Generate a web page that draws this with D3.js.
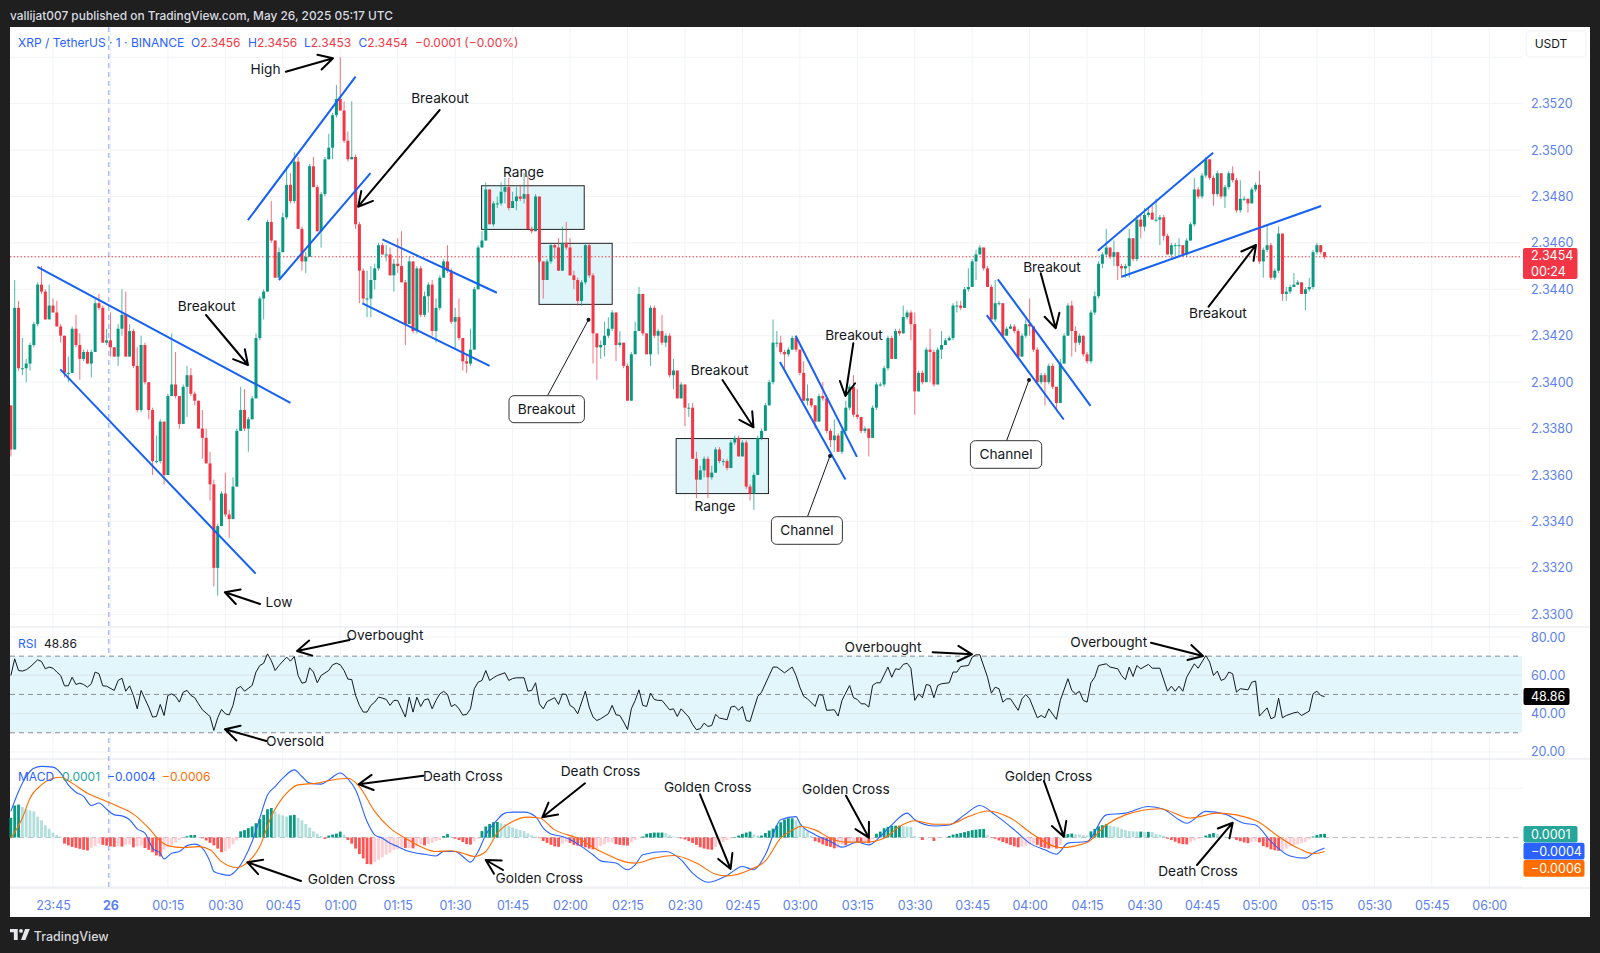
<!DOCTYPE html>
<html><head><meta charset="utf-8">
<script src="https://cdn.jsdelivr.net/npm/d3@7/dist/d3.min.js"></script>
<style>html,body{margin:0;padding:0;background:#1f1f1f}svg{display:block}text{font-family:Inter,"Liberation Sans",sans-serif}</style>
</head><body><svg id="c" width="1600" height="953"></svg>
<script>
// Prices are stored in units of 0.0001 above 2.0000 (3371 = 2.3371)
const firstOpen = 3390;
const closes = [
3371,3432,3406,3406,3408,3416,3425,3442,3439,3427,
3433,3430,3424,3420,3404,3404,3423,3416,3410,3413,
3408,3413,3434,3432,3417,3418,3415,3411,3423,3429,
3411,3422,3407,3388,3416,3400,3388,3366,3366,3383,
3360,3394,3399,3394,3382,3398,3403,3395,3392,3380,
3376,3365,3356,3320,3338,3352,3343,3341,3355,3379,
3388,3380,3384,3393,3419,3436,3439,3469,3461,3445,
3456,3471,3485,3478,3495,3466,3452,3454,3493,3484,
3465,3481,3496,3501,3515,3522,3517,3504,3496,3497,
3468,3448,3436,3436,3444,3449,3459,3455,3455,3446,
3451,3450,3443,3425,3452,3422,3449,3429,3437,3442,
3422,3432,3445,3452,3448,3426,3428,3419,3409,3408,
3414,3440,3458,3461,3483,3468,3477,3477,3482,3484,
3475,3478,3480,3479,3481,3466,3465,3480,3452,3444,
3452,3459,3458,3448,3460,3458,3446,3444,3435,3443,
3459,3446,3421,3415,3416,3420,3423,3430,3416,3417,
3407,3392,3412,3422,3438,3421,3412,3432,3420,3422,
3417,3420,3403,3405,3393,3399,3389,3389,3367,3358,
3362,3367,3359,3361,3371,3366,3366,3363,3374,3376,
3368,3374,3355,3352,3360,3376,3379,3390,3400,3417,
3417,3413,3412,3414,3419,3414,3404,3392,3393,3390,
3383,3394,3393,3379,3375,3377,3370,3379,3389,3398,
3386,3385,3379,3380,3376,3389,3399,3399,3406,3419,
3410,3422,3421,3428,3430,3425,3396,3404,3400,3414,
3413,3399,3414,3416,3418,3419,3433,3433,3432,3440,
3441,3452,3455,3458,3449,3441,3427,3434,3434,3420,
3423,3424,3422,3411,3420,3425,3424,3414,3400,3403,
3400,3407,3398,3391,3408,3420,3433,3422,3417,3420,
3412,3409,3430,3437,3451,3455,3458,3454,3456,3450,
3449,3450,3462,3453,3470,3467,3472,3473,3470,3470,
3471,3463,3455,3459,3459,3459,3455,3461,3468,3483,
3480,3489,3496,3488,3481,3490,3480,3484,3490,3487,
3474,3479,3479,3477,3483,3485,3452,3457,3459,3445,
3448,3464,3438,3439,3441,3442,3443,3438,3440,3441,
3456,3459,3456,3454];
const highs = [
3390,3444,3435,3419,3410,3417,3426,3443,3450,3440,
3442,3436,3435,3425,3420,3411,3424,3429,3421,3414,
3414,3414,3436,3438,3433,3423,3430,3415,3425,3440,
3439,3425,3423,3415,3420,3417,3399,3389,3377,3384,
3383,3395,3421,3413,3394,3399,3407,3406,3396,3392,
3388,3380,3370,3358,3339,3353,3361,3345,3359,3380,
3398,3397,3385,3394,3421,3437,3440,3470,3478,3461,
3458,3473,3493,3490,3499,3497,3467,3456,3494,3497,
3485,3482,3497,3507,3516,3528,3540,3521,3508,3521,
3498,3469,3449,3448,3450,3451,3460,3460,3459,3458,
3453,3462,3465,3444,3454,3452,3450,3450,3439,3443,
3444,3436,3446,3453,3459,3449,3432,3436,3418,3412,
3423,3441,3459,3465,3486,3483,3478,3480,3486,3488,
3488,3482,3484,3485,3490,3489,3467,3481,3477,3452,
3453,3460,3460,3462,3467,3469,3462,3448,3445,3444,
3460,3460,3447,3421,3418,3426,3428,3431,3430,3422,
3417,3408,3413,3426,3441,3438,3421,3433,3433,3423,
3429,3421,3421,3410,3405,3400,3399,3391,3391,3370,
3364,3368,3368,3364,3372,3372,3367,3367,3375,3377,
3377,3375,3375,3356,3361,3377,3380,3391,3401,3427,
3422,3420,3414,3415,3420,3420,3414,3409,3399,3393,
3390,3395,3400,3393,3380,3384,3378,3380,3392,3399,
3403,3397,3385,3381,3380,3390,3400,3400,3407,3420,
3420,3423,3423,3433,3431,3431,3430,3405,3405,3415,
3423,3414,3415,3422,3419,3420,3434,3435,3435,3441,
3449,3453,3457,3459,3458,3450,3442,3444,3435,3434,
3424,3425,3425,3423,3421,3427,3436,3424,3415,3404,
3404,3408,3408,3398,3410,3421,3434,3435,3424,3421,
3420,3413,3431,3439,3452,3456,3466,3458,3461,3456,
3451,3451,3466,3462,3472,3472,3475,3475,3476,3479,
3472,3472,3464,3460,3460,3462,3459,3462,3469,3488,
3484,3490,3497,3496,3489,3491,3490,3485,3491,3493,
3488,3487,3480,3479,3484,3486,3491,3458,3468,3460,
3449,3467,3464,3441,3442,3447,3444,3443,3441,3445,
3457,3460,3459,3456];
const lows = [
3368,3371,3405,3403,3400,3405,3415,3424,3438,3427,
3428,3430,3424,3417,3402,3400,3404,3415,3401,3409,
3408,3402,3413,3431,3417,3416,3411,3411,3407,3420,
3411,3411,3406,3387,3387,3399,3384,3360,3365,3365,
3356,3360,3394,3393,3380,3382,3385,3394,3390,3380,
3367,3365,3349,3312,3308,3338,3342,3333,3341,3355,
3379,3379,3370,3384,3393,3418,3427,3439,3460,3445,
3445,3456,3470,3477,3477,3466,3448,3447,3454,3484,
3465,3458,3480,3496,3496,3514,3517,3503,3495,3496,
3466,3434,3434,3428,3428,3440,3448,3455,3452,3446,
3439,3447,3443,3416,3425,3421,3421,3428,3428,3430,
3420,3417,3431,3445,3447,3425,3414,3418,3405,3404,
3407,3415,3440,3458,3461,3468,3467,3475,3476,3477,
3474,3475,3474,3478,3477,3466,3464,3465,3451,3436,
3444,3451,3453,3448,3448,3457,3446,3440,3433,3433,
3442,3445,3408,3401,3410,3411,3419,3422,3409,3415,
3406,3392,3392,3413,3422,3420,3412,3407,3419,3412,
3416,3415,3402,3397,3393,3393,3381,3385,3367,3350,
3358,3359,3350,3358,3361,3365,3364,3362,3363,3373,
3368,3368,3354,3349,3345,3360,3375,3379,3390,3399,
3415,3412,3405,3411,3414,3413,3403,3392,3390,3389,
3380,3383,3392,3378,3372,3370,3370,3369,3378,3388,
3385,3384,3378,3378,3368,3376,3388,3398,3398,3405,
3410,3410,3420,3421,3427,3418,3386,3396,3399,3400,
3400,3398,3399,3410,3417,3418,3418,3430,3431,3432,
3439,3441,3444,3455,3448,3441,3427,3426,3433,3419,
3420,3423,3421,3410,3411,3419,3420,3413,3399,3399,
3390,3399,3397,3388,3391,3408,3420,3411,3413,3416,
3411,3408,3408,3429,3436,3449,3454,3453,3450,3444,
3445,3445,3445,3452,3452,3462,3465,3471,3470,3469,
3459,3461,3455,3453,3454,3454,3454,3454,3461,3467,
3479,3479,3488,3487,3476,3480,3479,3475,3483,3486,
3473,3473,3478,3473,3477,3482,3451,3445,3456,3444,
3444,3447,3435,3435,3438,3441,3442,3438,3431,3439,
3440,3455,3455,3453];

// RSI: bar index and value at each visible vertex
const rsiBars = [0,1,2,3,4,5,7,8,9,10,11,12,13,14,15,16,17,18,19,20,21,22,23,24,25,27,28,29,30,31,32,33,34,35,36,37,38,39,40,41,42,43,44,45,46,47,48,49,50,52,53,54,55,56,57,58,59,60,61,63,64,65,66,67,68,69,70,72,73,74,75,76,77,78,79,80,81,83,84,85,86,87,88,89,90,91,92,93,94,95,96,97,98,99,100,101,102,103,104,105,106,107,108,109,110,111,112,113,114,115,116,117,118,119,120,121,122,123,124,125,126,127,129,130,131,132,134,135,136,137,138,139,140,142,143,144,145,146,147,148,150,151,152,153,154,156,157,158,159,160,161,162,163,164,165,166,167,168,169,170,172,173,174,175,177,178,179,180,181,182,183,184,185,187,188,189,190,191,192,193,194,195,196,199,200,202,204,205,206,207,208,210,211,212,213,215,216,217,219,220,221,222,223,224,225,226,227,229,230,231,232,233,234,235,236,237,238,239,240,241,242,243,245,246,247,248,250,251,252,253,255,256,257,258,259,260,261,263,264,265,266,268,269,270,271,273,274,276,277,278,279,280,281,282,283,284,286,287,289,290,291,292,293,294,295,297,298,300,302,303,304,305,306,307,309,310,312,313,314,315,316,317,318,319,320,321,323,324,325,326,328,329,330,331,332,333,335,336,337,339,340,341,342,343];
const rsiValues = [59.9,68.6,62.5,62.2,62.9,64.3,68.1,67.2,63.4,64.3,63.7,61.7,59.9,54.5,54.5,59,55.2,55.9,55.2,53.8,55.6,61.7,60.8,54.5,54.3,52.1,57.3,58.5,51.7,54.5,49.5,42.5,52.1,47.7,43.4,38.2,38.5,44.8,39,49.5,50.3,49,46,51.2,52.1,49.5,48.3,45.1,42,38.5,31.2,37.8,42.2,39.9,39.3,44.3,53,54.2,51.7,54.7,61.7,65.1,66.3,71.2,67.7,62.5,65.1,69.5,67.4,69.8,59.9,55.9,56.4,63.9,61.7,56.1,59.9,62.5,65.5,66.3,65.5,62.5,58,57.8,49.5,44.3,40.8,40.8,44.3,46,48.6,48.1,47.4,44.3,46.9,46.9,42.5,38.2,48.6,40.8,48.6,43.7,47.2,47.7,42.5,46.9,50.3,51.6,50,43.7,44.8,42.5,39.2,39.6,42.5,53,56.4,57.3,62.5,57.3,58.7,59.9,61.3,57.3,58.3,58.7,58.7,51.7,52.1,56.1,45.1,42.5,46.3,48.3,44.8,50.3,50,44.3,43,39.9,51.7,43.4,38.2,36.4,37.3,39.9,44.3,39.4,39,35.6,31.7,42.5,46.9,52.4,44.3,43.7,50.7,47.4,46.9,46.9,42,42.5,38.5,42.5,38.2,34.3,31.6,32.1,35,33.3,33.8,39.6,37.7,36.8,43.4,43.9,41.7,43.7,36.4,35.9,42.5,49,51.2,64.3,64.3,61.3,64.3,59.9,53.8,49,47.7,43.7,50,49.5,41.7,42,38.7,46.9,54.7,48.3,47.4,45.1,45.1,43.4,54.7,56.1,56.1,64.3,59,63.4,63,65.7,66.3,63.7,46.9,50.3,48.3,55.2,54.7,48.3,54.7,55.6,56.1,61.7,61.7,64.6,65.1,69.5,70.7,70.7,59,50.7,53.8,53,46,47.7,47.7,41.7,47.7,50,47.7,37.8,39,37.8,42.5,37,46.9,58.2,52.1,50.3,51.6,46.9,46,56.1,59,65.1,66,64.3,63.4,59.9,57.7,64.3,59.4,65.1,63.4,65.7,63.7,63.7,51.7,54.3,51.7,54.3,51.7,59,66,63.7,70.3,66.9,59.9,62.2,57.3,58.2,61.7,60.8,51.2,53,52.4,56.4,57,38.7,43,37.3,38.2,48.1,37.8,39,40.4,40.8,39,41.3,50.3,51.7,49.5,48.86];

// MACD lines, units of 0.0001
const macdBars = [0,2,4,6,8,11,13,15,17,19,21,23,25,27,29,31,33,35,37,39,40,42,44,46,48,50,52,53,55,57,59,61,63,65,67,69,71,74,76,78,81,83,86,88,90,93,95,97,99,101,104,106,108,111,113,116,118,120,122,124,127,129,131,134,137,139,141,144,147,149,152,154,158,161,163,165,171,175,178,182,187,191,194,197,201,205,206,210,214,217,221,224,227,230,234,236,241,245,249,253,257,262,266,270,273,276,281,286,291,297,301,305,307,312,317,322,325,329,334,338,340,343];
const macdValues = [10.6,18.7,24.8,28.2,28.9,28.6,26.2,21.4,18.4,16.7,13,14,11.5,9.2,8.8,7.2,3.5,1.8,-4.3,-6.4,-8.7,-6.4,-5.7,-3.3,-2.7,-4.3,-9.8,-13.8,-14.9,-15.4,-13.1,-8.4,-1.6,7.9,17.3,20.7,24.1,27.5,24.8,22.1,21.7,23.4,26.2,23.8,19.4,6.5,1.1,-0.3,-2.3,-3.7,-5.7,-6.4,-6.8,-7.5,-5.7,-5.7,-7.7,-10,-5.7,1.1,7.2,9.9,10.3,10.3,8.5,3.8,1.4,0.4,-1.6,-3.7,-7,-9.5,-10.4,-13.1,-11.1,-7,-5.7,-9.1,-14.5,-18.2,-15.4,-11.8,-13.1,-7,7.2,8.5,5.8,1.1,-1.6,-3.9,-1.9,-3,0.4,5.1,9.9,7.2,4.7,5.1,9.2,13,9.2,3.1,-2.3,-5,-6.8,-2.3,-1.6,9.2,9.9,12.6,11.5,7.2,5.8,10.6,9.5,5.8,5.1,-1.6,-7.5,-8.4,-6.4,-4.3];
const signalBars = [0,3,5,8,11,13,16,20,24,28,32,36,39,41,45,49,52,55,59,62,65,68,72,75,80,84,88,91,95,99,103,107,111,115,118,121,124,127,131,135,138,142,148,154,163,168,173,179,184,187,193,197,201,205,206,210,214,218,223,228,232,236,241,245,250,255,261,267,274,281,286,291,300,308,315,325,331,336,340,343];
const signalValues = [-0.3,7.9,16,21.4,24.1,24.5,22.1,18,15.3,12.6,9.5,3.8,-1.4,-3.3,-4.1,-3.7,-5,-9.8,-12.2,-9.8,-3.7,8.5,18,21.4,22.1,23.4,24.1,20.7,10.6,3.8,-0.3,-3.7,-5.7,-5.4,-6.4,-7.7,-5.7,1.8,6.5,8.3,7.9,3.1,-0.3,-5.7,-10.4,-8.4,-7.3,-10.4,-14.9,-15.6,-13.1,-9.5,-0.3,3.8,4.5,3.1,-0.3,-1.9,-1.9,-0.3,4.5,6.8,5.4,5.4,8.5,10.8,7.9,1.1,-4.1,-2,5.1,9.2,11.7,7.9,9.9,6.9,0.4,-4.3,-6.6,-5.7];
const histValues = [
8,13,13.4,12.4,11.5,11,10.6,8.5,7,5,
3.5,2,1,0.4,-2.5,-3.2,-3.8,-4.2,-4.6,-5,
-5.3,-4.2,-3.5,-2.5,-3,-3.3,-3.6,-3.8,-3.4,-3.7,
-3,-2.8,-4,-3.6,-3.3,-4.3,-5,-6,-7.3,-7.7,
-5,-4,-3,-2,-1,-0.3,0.5,1,1,0.2,
-0.3,-1.2,-2.2,-3.2,-4.5,-6,-5.5,-4.5,-2.8,-1.2,
2.5,3,3.8,4.5,5.8,7.5,9.2,11.5,12,10.5,
9.5,9,8.5,9,9.2,8,7,5.5,4,2.5,
1.5,0.6,-0.6,0.8,1.2,1.6,2.4,1.2,-1,-2.5,
-4.5,-6.7,-8.5,-10.8,-10.9,-10,-9,-8,-7,-6.2,
-5,-4.8,-4,-4.3,-4.2,-4.4,-3.6,-2.8,-3.2,-2.6,
-2.2,-1.5,-1,0.6,1.4,0.4,-0.5,-1,-1.8,-2.7,
-2.9,-1.6,-0.6,2.6,4.5,5.5,6.2,6.3,5.8,5.4,
4.8,4,3.5,3,2.6,1.7,0.9,0.3,-0.3,-1.4,
-2.2,-3,-3.6,-3.8,-2.5,-1.7,-2.2,-3,-3.3,-3.5,
-4,-4.5,-4.8,-4.8,-3.5,-2.8,-2,-2,-2.7,-3,
-3.2,-3.3,-2,-1,-0.3,0.4,1.5,1.8,2,2,
2,1.8,0.9,0.4,0.1,-0.4,-0.8,-1.5,-2.2,-3,
-4,-4.5,-4.8,-5,-3.8,-2.8,-1.8,-1,-0.4,0.2,
0.8,1.5,2,2.4,1.2,0.8,0.8,1.8,2.8,3.6,
4.8,6.2,7.3,7.8,7.8,7,5.5,3.8,2.5,0.8,
-1.5,-2,-2.8,-3.4,-3.8,-4.4,-4.2,-3,-3.1,-2.2,
-1.6,-1.7,-2.1,-2,-2.3,-0.7,1.5,2.4,3.8,4.3,
4.8,4.8,4.8,4.6,4.4,4.3,0.6,0.2,-1,-0.3,
-0.2,-1.4,-0.3,-0.2,-0.1,0.6,1.2,1.5,1.8,2.2,
2.6,3,3.2,3.4,3.5,1,-0.2,-0.5,-1.2,-1.8,
-2.4,-3,-3.6,-4,-3.7,-3.4,-2.8,-2.4,-3,-3.8,
-4.2,-4.5,-4.4,-4.5,-3,1.2,1.4,1.6,1.3,1.2,
0.9,0.8,2.5,3.5,4.5,5,5.4,4.8,4.5,4.2,
3.5,3,2.6,2.5,2.4,2.4,2.3,2.3,2.2,1.5,
1.2,0.7,-0.5,-1,-1.7,-2.4,-2.7,-2.8,-2,-1.2,
-0.6,-0.1,0.8,1.4,1.8,1.4,0.9,0.4,0.2,-0.2,
-1,-1.5,-2,-2.3,-1.8,-1.7,-2,-3.5,-4,-4.8,
-5.2,-5.4,-5.3,-4.5,-3.6,-3,-2.8,-2.2,-1.8,-0.8,
0.4,1,1.4,1.5];

const timeBars = [11,26,41,56,71,86,101,116,131,146,161,176,191,206,221,236,251,266,281,296,311,326,341,356,371,386];
const timeLabels = ["23:45","26","00:15","00:30","00:45","01:00","01:15","01:30","01:45","02:00","02:15","02:30","02:45","03:00","03:15","03:30","03:45","04:00","04:15","04:30","04:45","05:00","05:15","05:30","05:45","06:00"];
const priceTicks = [2.352,2.35,2.348,2.346,2.344,2.342,2.34,2.338,2.336,2.334,2.332,2.33];
const rsiTicks = [80,60,40,20];
const rsiLevels = [70,50,30];
const macdTicks = [0.002,-0.002];

// Drawings anchored to bar index and price (same 0.0001 units): bar1, price1, bar2, price2
const trendLines = [
[6.9,3449.7,73,3391.1],[12.9,3405.5,63.9,3317.5],[61.9,3469.8,90,3531.6],[70,3444,93.9,3490],
[97,3461.5,126.9,3438.5],[91.8,3433.9,125,3407],[204.9,3420,220.9,3367.8],[200.8,3408.7,217.9,3358.1],
[257.7,3444.3,281.9,3389.8],[254.8,3428.9,274.9,3383.9],[283.8,3456.6,313.9,3498.8],[290,3445.4,342.1,3475.9]];
const rangeBoxes = [[122.9,3484.6,149.7,3465.8],[137.9,3459.8,157,3433.5],[173.7,3375.7,197.8,3352]];

const W=1590,L=10,T=27,B=917,PR=1522;
const svg=d3.select("#c");
const x=d3.scaleLinear().domain([0,343]).range([10.87,10.87+343*3.83]);
const py=d3.scaleLinear().domain([2.35,2.336]).range([150,475]);
const ry=d3.scaleLinear().domain([80,20]).range([637,751.9]);
const my=d3.scaleLinear().domain([0.002,-0.002]).range([788.3,886.7]);
const P=t=>2+t*1e-4;
const UP="#089981",DN="#F23645",AX="#5b7ff2",INK="#131722";

svg.append("rect").attr("width",1600).attr("height",953).attr("fill","#1f1f1f");
svg.append("rect").attr("x",L).attr("y",T).attr("width",W-L).attr("height",B-T).attr("fill","#fff");
const defs=svg.append("defs");
defs.append("clipPath").attr("id","pp").append("rect").attr("x",L).attr("y",T).attr("width",PR-L).attr("height",627-T);
defs.append("clipPath").attr("id","axc").append("rect").attr("x",PR).attr("y",T).attr("width",W-PR).attr("height",888-T);

svg.append("text").attr("x",10).attr("y",20).attr("fill","#d9dbe0").attr("font-size",11.9).attr("font-weight",500)
  .text("vallijat007 published on TradingView.com, May 26, 2025 05:17 UTC");

// grid
const grid=svg.append("g").attr("stroke","#f2f3f5").attr("stroke-width",1);
grid.selectAll("line.v").data(timeBars.filter(b=>x(b)<PR)).join("line")
  .attr("x1",d=>x(d)).attr("x2",d=>x(d)).attr("y1",T).attr("y2",888);
const hl=(a,f)=>grid.append("g").selectAll("line").data(a).join("line").attr("x1",L).attr("x2",PR).attr("y1",f).attr("y2",f);
hl(priceTicks.concat([2.354]),py); hl(rsiTicks,ry); hl(macdTicks,my);
svg.append("g").attr("stroke","#e3e5ea").selectAll("line").data([627,759,888]).join("line")
  .attr("x1",L).attr("x2",W).attr("y1",d=>d).attr("y2",d=>d);

// session break
svg.append("line").attr("x1",108.8).attr("x2",108.8).attr("y1",T).attr("y2",888)
  .attr("stroke","#2962FF").attr("stroke-opacity",.6).attr("stroke-dasharray","5 4");

// range boxes
svg.append("g").selectAll("rect").data(rangeBoxes).join("rect")
  .attr("x",d=>x(d[0])).attr("y",d=>py(P(d[1]))).attr("width",d=>x(d[2])-x(d[0])).attr("height",d=>py(P(d[3]))-py(P(d[1])))
  .attr("fill","#dff5f9").attr("stroke","#222").attr("stroke-width",1);

// last-price line
svg.append("line").attr("x1",L).attr("x2",PR).attr("y1",py(P(3454))).attr("y2",py(P(3454)))
  .attr("stroke",DN).attr("stroke-dasharray","1.5 2");

// candles
const opens=closes.map((c,i)=>i?closes[i-1]:firstOpen);
const cg=svg.append("g").attr("clip-path","url(#pp)");
cg.selectAll("line").data(closes).join("line")
  .attr("x1",(d,i)=>x(i)).attr("x2",(d,i)=>x(i))
  .attr("y1",(d,i)=>py(P(highs[i]))).attr("y2",(d,i)=>py(P(lows[i])))
  .attr("stroke",(d,i)=>d>=opens[i]?UP:DN).attr("stroke-opacity",.7).attr("stroke-width",1);
cg.selectAll("rect").data(closes).join("rect")
  .attr("x",(d,i)=>x(i)-1.5).attr("width",3)
  .attr("y",(d,i)=>py(P(Math.max(d,opens[i]))))
  .attr("height",(d,i)=>Math.max(1,Math.abs(py(P(d))-py(P(opens[i])))))
  .attr("fill",(d,i)=>d>=opens[i]?UP:DN);

// trend lines
svg.append("g").attr("stroke","#1560f5").attr("stroke-width",2).selectAll("line").data(trendLines).join("line")
  .attr("x1",d=>x(d[0])).attr("y1",d=>py(P(d[1]))).attr("x2",d=>x(d[2])).attr("y2",d=>py(P(d[3])));

// RSI pane
svg.append("rect").attr("x",L).attr("width",PR-L).attr("y",ry(70)).attr("height",ry(30)-ry(70)).attr("fill","#e2f6fb");
svg.append("g").selectAll("line").data(rsiLevels).join("line")
  .attr("x1",L).attr("x2",PR).attr("y1",ry).attr("y2",ry).attr("stroke","#8a8d96").attr("stroke-dasharray","5 4");
svg.append("g").attr("stroke","#dfe7ea").selectAll("line").data([60,40]).join("line")
  .attr("x1",L).attr("x2",PR).attr("y1",ry).attr("y2",ry);
svg.append("path").attr("fill","none").attr("stroke",INK).attr("stroke-width",1)
  .attr("d",d3.line().x((d,i)=>x(rsiBars[i])).y(d=>ry(d))(rsiValues));

// MACD pane
svg.append("line").attr("x1",L).attr("x2",PR).attr("y1",my(0)).attr("y2",my(0)).attr("stroke","#b8bbc2").attr("stroke-dasharray","5 4");
const M=v=>v*1e-4;
svg.append("g").selectAll("rect").data(histValues).join("rect")
  .attr("x",(d,i)=>x(i)-1.4).attr("width",2.8)
  .attr("y",d=>my(M(Math.max(d,0)))).attr("height",d=>Math.max(.5,Math.abs(my(M(d))-my(0))))
  .attr("fill",(d,i)=>{const p=i?histValues[i-1]:d-1; return d>=0?(d>=p?"#089981":"#b2dfdb"):(d<p?"#ff5252":"#ffcdd2");});
const ml=(bars,col,vals)=>svg.append("path").attr("fill","none").attr("stroke",col).attr("stroke-width",1.1)
  .attr("d",d3.line().curve(d3.curveMonotoneX).x((d,i)=>x(bars[i])).y(d=>my(M(d)))(vals));
ml(macdBars,"#2962FF",macdValues); ml(signalBars,"#FF6D00",signalValues);

// axes
const fmtAxis=(ax,col,size)=>{ax.select(".domain").remove();ax.selectAll(".tick line").remove();
  ax.selectAll("text").attr("fill",col).attr("font-size",size).attr("font-family","Inter,sans-serif");};
const pa=svg.append("g").attr("transform","translate(1522,0)").call(d3.axisRight(py).tickValues(priceTicks).tickFormat(d3.format(".4f")).tickPadding(3));
fmtAxis(pa,AX,12.5);
const ra=svg.append("g").attr("transform","translate(1522,0)").call(d3.axisRight(ry).tickValues(rsiTicks).tickFormat(d3.format(".2f")).tickPadding(3));
fmtAxis(ra,AX,12.5);
const ma=svg.append("g").attr("transform","translate(1522,0)").attr("clip-path","url(#axc)").call(d3.axisRight(my).tickValues(macdTicks).tickFormat(d=>d3.format(".4f")(d).replace("-","\u2212")).tickPadding(3));
fmtAxis(ma,AX,12.5);
const ta=svg.append("g").attr("transform","translate(0,895.5)").call(d3.axisBottom(x).tickValues(timeBars).tickFormat((d,i)=>timeLabels[i]).tickPadding(0));
fmtAxis(ta,AX,12.5);
ta.selectAll("text").filter(d=>d===26).attr("font-weight",700);

// legend
const lg=(xp,yp,t,c,fw)=>svg.append("text").attr("x",xp).attr("y",yp).attr("fill",c).attr("font-size",12).attr("font-weight",fw||400).text(t);
const LB="#2962FF";
lg(18,47.3,"XRP / TetherUS \u00b7 1 \u00b7 BINANCE",LB);
[[191,"O","2.3456"],[248,"H","2.3456"],[304,"L","2.3453"],[358.5,"C","2.3454"]].forEach(a=>{
  const t=svg.append("text").attr("x",a[0]).attr("y",47.3).attr("font-size",12);
  t.append("tspan").attr("fill",LB).text(a[1]); t.append("tspan").attr("fill",DN).text(a[2]);});
lg(415,47.3,"\u22120.0001 (\u22120.00%)",DN);
lg(18,648,"RSI",LB); lg(44,648,"48.86",INK);
lg(18,780.5,"MACD",LB); lg(62,780.5,"0.0001","#26A69A"); lg(107,780.5,"\u22120.0004",LB); lg(162,780.5,"\u22120.0006","#FF6D00");

// price tags
const tag=(x0,y0,w,h,col,lines)=>{
  svg.append("rect").attr("x",x0).attr("y",y0).attr("width",w).attr("height",h).attr("rx",2).attr("fill",col);
  lines.forEach((l,i)=>svg.append("text").attr("x",1531).attr("y",y0+h/lines.length*(i+.5)+4.5).attr("fill","#fff").attr("font-size",12.5).text(l));};
tag(1523,248,54.5,31,DN,["2.3454","00:24"]);
tag(1523.5,688,46,17,"#000",["48.86"]);
tag(1523.5,826,54,16.5,"#26A69A",["0.0001"]);
tag(1523.5,842.7,61,16.7,"#2962FF",["\u22120.0004"]);
tag(1523.5,860,61,16.7,"#FF6D00",["\u22120.0006"]);
svg.append("rect").attr("x",1526).attr("y",31).attr("width",60).attr("height",26).attr("rx",4).attr("fill","#fff").attr("stroke","#f0f1f4");
svg.append("text").attr("x",1551).attr("y",48).attr("text-anchor","middle").attr("fill",INK).attr("font-size",12).text("USDT");

// hand-drawn markup (page layout)
const arrows=[[285.8,71.7,333,58.3],[439.7,110,358.1,206.7],[206,315,248,365],[260,604,224.9,592.3],
[722.5,380,753.5,427.3],[853.3,343.3,845.4,396],[1040.7,273.3,1055.7,328.3],[1208.6,306.7,1256,245],
[349.5,640,297,651],[266.3,741,225,729.3],[932.7,652.3,972,654.3],[1151,642.7,1203,656],
[423.5,775.7,358.7,784.3],[585,783.3,542.3,817.3],[301,881,247.4,862.3],[503,870,485.7,860],
[700,794.3,730.6,869],[846,795.7,868.9,837.7],[1043.9,781,1063.8,836.7],[1197,865,1232.7,822.7]];
const ag=svg.append("g").attr("stroke","#000").attr("stroke-width",2).attr("fill","none").attr("stroke-linecap","round").attr("stroke-linejoin","round");
arrows.forEach(a=>{const th=Math.atan2(a[3]-a[1],a[2]-a[0]),s=16,k=.5;
  const b=o=>[a[2]-s*Math.cos(th+o),a[3]-s*Math.sin(th+o)];
  ag.append("path").attr("d",d3.line()([[a[0],a[1]],[a[2],a[3]]])+d3.line()([b(k),[a[2],a[3]],b(-k)]));});
const notes=[["High",265.5,69.3],["Breakout",440,98],["Breakout",206.6,306.7],["Low",279,602.7],["Range",523.5,172.4],
["Breakout",719.7,370.3],["Range",715,506],["Breakout",854,335],["Breakout",1052,267.3],["Breakout",1217.9,313],
["Overbought",385,635.7],["Oversold",295,741.7],["Overbought",883,647.7],["Overbought",1108.7,642.7],
["Death Cross",462.8,776.7],["Death Cross",600.5,771.7],["Golden Cross",351.5,879.3],["Golden Cross",539.3,878.3],
["Golden Cross",707.7,787.3],["Golden Cross",845.9,789.3],["Golden Cross",1048.5,776],["Death Cross",1198,871.7]];
svg.append("g").selectAll("text").data(notes).join("text").attr("x",d=>d[1]).attr("y",d=>d[2]+4.7).attr("text-anchor","middle")
  .attr("font-size",13.7).attr("fill",INK).text(d=>d[0]);
const callouts=[["Breakout",509,395.7,75.4,27,588.5,319.7,547.5,395.7],["Channel",771.4,516.7,71,27.6,830,456,807.5,516.7],["Channel",970.4,440.7,71.3,27.6,1029,380,1006.6,440.7]];
callouts.forEach(c=>{
  svg.append("line").attr("x1",c[5]).attr("y1",c[6]).attr("x2",c[7]).attr("y2",c[8]).attr("stroke",INK);
  svg.append("circle").attr("cx",c[5]).attr("cy",c[6]).attr("r",2).attr("fill",INK);
  svg.append("rect").attr("x",c[1]).attr("y",c[2]).attr("width",c[3]).attr("height",c[4]).attr("rx",5).attr("fill","#fff").attr("stroke","#333");
  svg.append("text").attr("x",c[1]+c[3]/2).attr("y",c[2]+c[4]/2+4.7).attr("text-anchor","middle").attr("font-size",13.7).attr("fill",INK).text(c[0]);});

// footer
const logo=svg.append("g").attr("transform","translate(10,929) scale(.55)").attr("fill","#e6e7ea");
logo.append("path").attr("d","M14 0H0v6h7v14h7V0Z");
logo.append("path").attr("d","M28 20h-8L27.5 0H36l-8 20Z");
logo.append("circle").attr("cx",20).attr("cy",3.5).attr("r",3.5);
svg.append("text").attr("x",33.7).attr("y",940.5).attr("fill","#d8d9dc").attr("font-size",12.5).attr("font-weight",500).text("TradingView");
</script></body></html>
